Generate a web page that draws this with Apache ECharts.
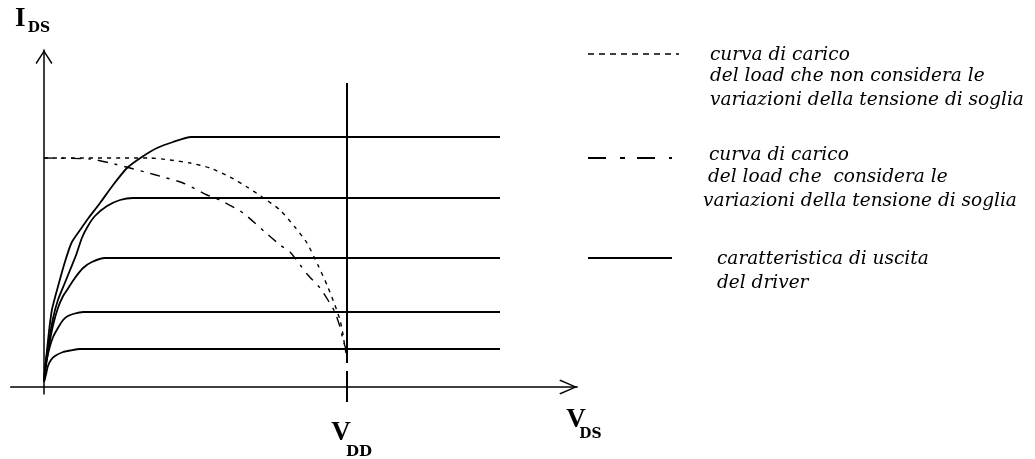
<!DOCTYPE html>
<html><head><meta charset="utf-8">
<script src="https://cdn.jsdelivr.net/npm/echarts@6/dist/echarts.min.js"></script>
<style>html,body{margin:0;padding:0;background:#fff}#c{width:1035px;height:459px}</style>
</head><body><div id="c"></div>
<script>
// ---- data (V_DS in arbitrary units, VDD = 10; I_DS in arbitrary units) ----
const VDD = 10;
const xRange = [-1.1, 17.6];
const yRange = [-0.28, 13.48];
const driver1 = [[0,0.2],[0.03,0.68],[0.1,1.48],[0.17,2.28],[0.26,3.08],[0.43,3.88],[0.69,5.0],[0.92,5.8],[1.19,6.28],[1.42,6.68],[1.85,7.36],[2.28,8.08],[2.74,8.76],[3.23,9.2],[3.73,9.56],[4.26,9.8],[4.85,10],[15.05,10]];
const driver2 = [[0,0.2],[0.07,1.08],[0.17,1.88],[0.3,2.76],[0.46,3.48],[0.66,4.08],[0.86,4.68],[1.06,5.28],[1.25,5.96],[1.45,6.44],[1.68,6.84],[2.08,7.24],[2.51,7.48],[2.94,7.56],[15.05,7.56]];
const driver3 = [[0,0.2],[0.07,0.88],[0.17,1.68],[0.3,2.48],[0.46,3.16],[0.63,3.64],[0.76,3.88],[1.02,4.36],[1.29,4.76],[1.58,5.0],[2.01,5.16],[15.05,5.16]];
const driver4 = [[0,0.2],[0.03,0.68],[0.1,1.16],[0.2,1.64],[0.3,2.0],[0.46,2.36],[0.63,2.68],[0.79,2.84],[0.96,2.92],[1.29,3.0],[15.05,3.0]];
const driver5 = [[0,0.2],[0.07,0.52],[0.13,0.84],[0.23,1.08],[0.36,1.24],[0.63,1.4],[0.86,1.46],[1.19,1.52],[15.05,1.52]];
const loadConstVt = [[0,9.16],[3.5,9.16],[4.16,9.08],[4.82,8.96],[5.48,8.76],[6.14,8.4],[6.7,8.0],[7.2,7.6],[7.79,7.08],[8.28,6.4],[8.68,5.76],[9.04,4.88],[9.34,4.08],[9.6,3.28],[9.77,2.68],[9.87,2.08],[9.93,1.6],[10,1.16]];
const loadVarVt = [[0,9.16],[1.52,9.12],[2.18,8.96],[2.84,8.76],[3.33,8.6],[3.93,8.4],[4.59,8.16],[5.38,7.68],[5.81,7.48],[6.57,6.96],[7.29,6.2],[7.79,5.68],[8.12,5.4],[8.38,5.0],[8.71,4.48],[9.11,3.96],[9.37,3.48],[9.6,3.0],[9.77,2.4],[9.87,1.88],[9.97,1.48],[10,1.08]];
const vddUpper = [[VDD,12.16],[VDD,0.96]];
const vddLower = [[VDD,0.64],[VDD,-0.6]];
const yName = ['I', 'DS'];
const xName = ['V', 'DS'];
const vddLabel = ['V', 'DD'];
const legendTexts = [
  ['curva di carico', 'del load che non considera le', 'variazioni della tensione di soglia'],
  ['curva di carico', 'del load che  considera le', 'variazioni della tensione di soglia'],
  ['caratteristica di uscita', 'del driver']
];

// ---- styles ----
const big = {fontFamily:'Liberation Serif', fontWeight:'bold', fontSize:27, lineHeight:27, color:'#000', verticalAlign:'top'};
const sub = (pad, fs) => ({fontFamily:'DejaVu Serif', fontWeight:'bold', fontSize:fs || 14, lineHeight:14, color:'#000', verticalAlign:'top', padding:[pad,0,0,0]});
const arrowY = 'path://M8.5,0L17,13L15.8,14L8.5,2.6L1.2,14L0,13Z';
const arrowX = 'path://M7.5,0L15,17L13.8,18L7.5,3.2L1.2,18L0,17Z';
const legFont = {fontFamily:'DejaVu Serif', fontStyle:'italic', fontSize:18.5, fill:'#000'};

const solid = (d) => ({type:'line', data:d, symbol:'none', smooth:0.2, clip:false, silent:true,
  lineStyle:{color:'#000', width:1.8}});

const chart = echarts.init(document.getElementById('c'), null, {renderer:'canvas'});
const graphic = [];
function legendLine(y, x1, x2, dash, w){
  graphic.push({type:'line', shape:{x1:x1, y1:y, x2:x2, y2:y}, style:{stroke:'#000', lineWidth:w, lineDash:dash}, silent:true});
}
function legendBlock(lines, xs, ys){
  lines.forEach((t,i)=>graphic.push({type:'text', x:xs[i], y:ys[i], style:Object.assign({text:t, verticalAlign:'middle', align:'left'}, legFont), silent:true}));
}
legendLine(54, 588, 679, [6,5], 1.5);
legendBlock(legendTexts[0], [710,710,710], [55,76,100]);
legendLine(158, 588, 672, [18,14,5,12], 2);
legendBlock(legendTexts[1], [709,708,703], [155,177,201]);
legendLine(258, 588, 672, null, 2);
legendBlock(legendTexts[2], [717,717], [259,283]);

chart.setOption({
  animation:false,
  backgroundColor:'#fff',
  grid:{left:10.67, top:50, width:566.61, height:344, containLabel:false, outerBoundsMode:'none'},
  xAxis:{type:'value', min:xRange[0], max:xRange[1],
    axisLine:{onZero:true, lineStyle:{color:'#000', width:1.5}, symbol:['none', arrowX], symbolSize:[15,18], symbolOffset:[0,-9]},
    axisTick:{show:false}, splitLine:{show:false},
    axisLabel:{show:true, customValues:[VDD], margin:26, padding:[0,0,0,14],
      formatter:()=>'{v|'+vddLabel[0]+'}{s|'+vddLabel[1]+'}',
      rich:{v:Object.assign({}, big, {width:10}), s:sub(25, 15)}},
    name:'{v|'+xName[0]+'}{s|'+xName[1]+'}', nameLocation:'end', nameGap:-11,
    nameTextStyle:{padding:[67,0,0,0], rich:{v:Object.assign({}, big, {width:13}), s:sub(20)}}
  },
  yAxis:{type:'value', min:yRange[0], max:yRange[1],
    axisLine:{onZero:true, lineStyle:{color:'#000', width:1.5}, symbol:['none', arrowY], symbolSize:[17,14], symbolOffset:[0,-7]},
    axisTick:{show:false}, splitLine:{show:false}, axisLabel:{show:false},
    name:'{v|'+yName[0]+'}{s|'+yName[1]+'}', nameLocation:'end', nameGap:17,
    nameTextStyle:{padding:[0,25,0,0], rich:{v:Object.assign({}, big, {width:15}), s:sub(15)}}
  },
  graphic:graphic,
  series:[
    solid(driver1), solid(driver2), solid(driver3), solid(driver4), solid(driver5),
    {type:'line', data:vddUpper, symbol:'none', clip:false, silent:true, lineStyle:{color:'#000', width:2}},
    {type:'line', data:vddLower, symbol:'none', clip:false, silent:true, lineStyle:{color:'#000', width:2}},
    {type:'line', data:loadConstVt, symbol:'none', smooth:0.2, clip:false, silent:true, lineStyle:{color:'#000', width:1.4, type:[4,5]}},
    {type:'line', data:loadVarVt, symbol:'none', smooth:0.2, clip:false, silent:true, lineStyle:{color:'#000', width:1.4, type:[10,7,3,7]}}
  ]
});
</script></body></html>
